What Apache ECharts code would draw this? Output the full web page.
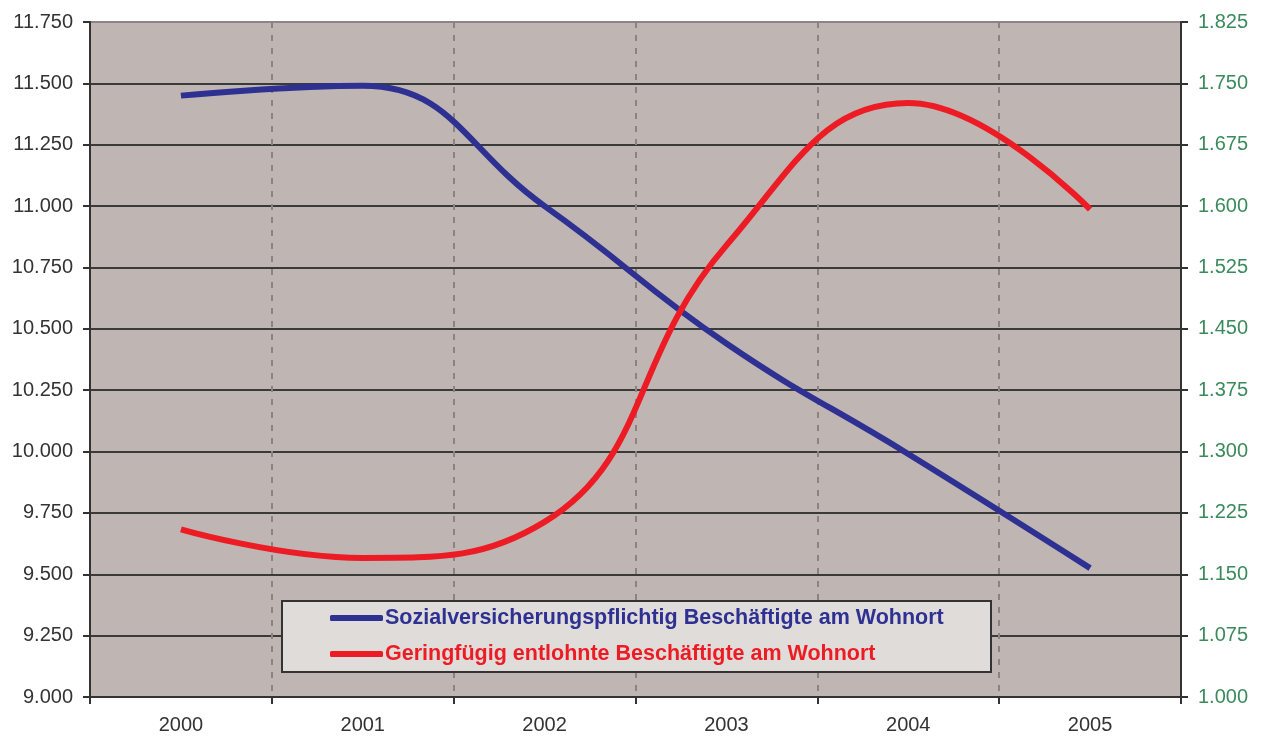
<!DOCTYPE html>
<html>
<head>
<meta charset="utf-8">
<script src="https://cdn.jsdelivr.net/npm/echarts@6/dist/echarts.min.js"></script>
<style>html,body{margin:0;padding:0;background:#fff;}#c{width:1265px;height:738px;}</style>
</head>
<body>
<div id="c"></div>
<script>
const years = ['2000','2001','2002','2003','2004','2005'];
const sozialName = 'Sozialversicherungspflichtig Beschäftigte am Wohnort';
const geringName = 'Geringfügig entlohnte Beschäftigte am Wohnort';
const sozialValues = [11450, 11490, 11000, 10440, 9990, 9525];
const geringValues = [1205, 1170, 1214, 1552, 1726, 1596];
const leftMin = 9000, leftMax = 11750, leftStep = 250;
const rightMin = 1000, rightMax = 1825, rightStep = 75;

function de(v){ return (v/1000).toFixed(3); }

const nLeft = Math.round((leftMax-leftMin)/leftStep)+1;
const splitColors = [];
for (let i=0;i<nLeft;i++) splitColors.push(i===nLeft-1 ? '#8d8583' : '#3a3a3a');

const FONT = 'Liberation Sans, Arial, sans-serif';
const chart = echarts.init(document.getElementById('c'));
chart.setOption({
  animation:false,
  backgroundColor:'#ffffff',
  grid:{left:90,right:84,top:22,bottom:41,show:true,backgroundColor:'#bfb5b2',borderWidth:0},
  xAxis:{
    type:'category', data:years, boundaryGap:true,
    axisLine:{lineStyle:{color:'#333',width:2}},
    axisTick:{show:true,length:7,lineStyle:{color:'#333',width:2}},
    axisLabel:{color:'#333',fontSize:20,fontFamily:FONT,margin:18},
    splitLine:{show:true,lineStyle:{color:'#8d8280',width:2,type:[6,7]}}
  },
  yAxis:[{
    type:'value', min:leftMin, max:leftMax, interval:leftStep, position:'left',
    axisLine:{show:true,lineStyle:{color:'#333',width:2}},
    axisTick:{show:true,length:7,lineStyle:{color:'#333',width:2}},
    axisLabel:{color:'#333',fontSize:20,fontFamily:FONT,margin:17,formatter:de},
    splitLine:{show:true,lineStyle:{color:splitColors,width:2}}
  },{
    type:'value', min:rightMin, max:rightMax, interval:rightStep, position:'right',
    axisLine:{show:true,lineStyle:{color:'#333',width:2}},
    axisTick:{show:true,length:7,lineStyle:{color:'#333',width:2}},
    axisLabel:{color:'#3b8a5c',fontSize:20,fontFamily:FONT,margin:17,formatter:de},
    splitLine:{show:false}
  }],
  graphic:[{
    type:'rect', z:5,
    shape:{x:282,y:601,width:709,height:71},
    style:{fill:'#e0dcda',stroke:'#333',lineWidth:2}
  }],
  legend:{
    orient:'vertical', left:330, top:607, z:10,
    itemWidth:53, itemHeight:6, itemGap:14, icon:'roundRect',
    padding:0,
    data:[
      {name:sozialName,textStyle:{color:'#2e3192'}},
      {name:geringName,textStyle:{color:'#ed1c24'}}
    ],
    textStyle:{fontSize:21.5,fontWeight:'bold',fontFamily:FONT,padding:[0,0,0,-3]}
  },
  series:[{
    name:sozialName, type:'line', yAxisIndex:0, data:sozialValues,
    smooth:0.45, showSymbol:false, symbol:'none',
    lineStyle:{color:'#2e3192',width:6}, itemStyle:{color:'#2e3192'}
  },{
    name:geringName, type:'line', yAxisIndex:1, data:geringValues,
    smooth:0.45, showSymbol:false, symbol:'none',
    lineStyle:{color:'#ed1c24',width:6}, itemStyle:{color:'#ed1c24'}
  }]
});
</script>
</body>
</html>
